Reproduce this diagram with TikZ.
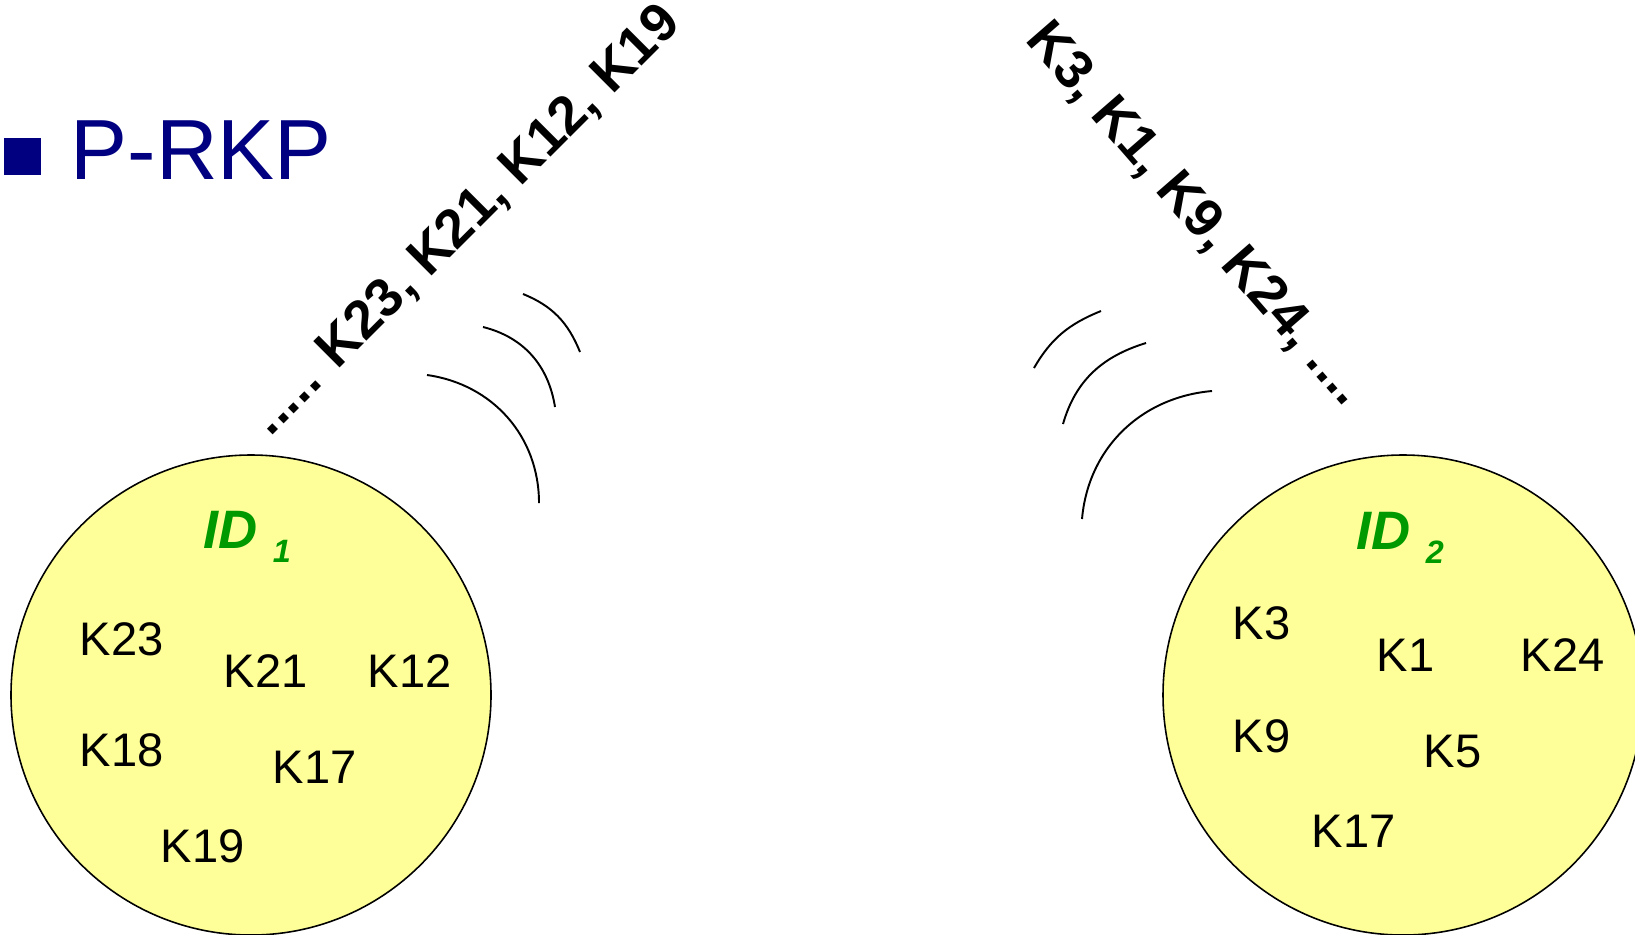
\documentclass[tikz,border=0pt]{standalone}
\usepackage{fontspec}
\setmainfont{Liberation Sans}
\definecolor{titleblue}{RGB}{0,0,128}
\definecolor{padyellow}{RGB}{255,255,153}
\definecolor{idgreen}{RGB}{0,153,0}
\begin{document}
\begin{tikzpicture}[
		keyring/.style={circle,draw,fill=padyellow,line width=0.45pt,minimum size=4.8cm,inner sep=0},
		keylabel/.style={anchor=base west,inner sep=0,font=\fontsize{13.4}{15}\selectfont},
		idlabel/.style={anchor=base west,inner sep=0,text=idgreen,font=\fontsize{15.4}{18}\selectfont\bfseries\itshape},
		sent/.style={anchor=base west,inner sep=0,font=\fontsize{15.4}{18}\selectfont\bfseries},
		wave/.style={line width=0.55pt}]
		\useasboundingbox (0,0) rectangle (16.35,9.34);
		\node[fill=titleblue,minimum size=0.37cm,inner sep=0] (bullet) at (0.225,7.78) {};
		\node[anchor=base west,inner sep=0,text=titleblue,font=\fontsize{24.3}{29}\selectfont] (title) at (0.70,7.55) {P-RKP};
		\begin{scope}
			\node[keyring] (id1) at (2.51,2.39) {};
			\node[idlabel] (id1name) at (2.03,3.86) {ID \raisebox{-0.14cm}{\fontsize{9.2}{11}\selectfont 1}};
			\foreach \k/\x/\y in {K23/0.79/2.79,K21/2.23/2.47,K12/3.67/2.47,K18/0.79/1.68,K17/2.72/1.51,K19/1.60/0.72}
				\node[keylabel] (a\k) at (\x,\y) {\k};
			\node[sent,rotate=45] (senda) at (2.70,4.96) {..... K23, K21, K12, K19};
			\draw[wave] (4.27,5.59) to[out=-8,in=90] (5.39,4.31);
			\draw[wave] (4.83,6.07) to[out=-14,in=99] (5.55,5.27);
			\draw[wave] (5.23,6.40) to[out=-22,in=112] (5.80,5.82);
		\end{scope}
		\begin{scope}
			\node[keyring] (id2) at (14.03,2.39) {};
			\node[idlabel] (id2name) at (13.56,3.85) {ID \raisebox{-0.14cm}{\fontsize{9.2}{11}\selectfont 2}};
			\foreach \k/\x/\y in {K3/12.32/2.95,K1/13.76/2.63,K24/15.20/2.63,K9/12.32/1.82,K5/14.23/1.67,K17/13.11/0.87}
				\node[keylabel] (b\k) at (\x,\y) {\k};
			\node[sent,rotate=-49] (sendb) at (10.24,8.94) {K3, K1, K9, K24, ....};
			\draw[wave] (12.12,5.43) to[out=185,in=85] (10.82,4.15);
			\draw[wave] (11.46,5.91) to[out=197,in=74] (10.63,5.10);
			\draw[wave] (11.01,6.23) to[out=202,in=60] (10.34,5.66);
		\end{scope}
	\end{tikzpicture}
\end{document}
